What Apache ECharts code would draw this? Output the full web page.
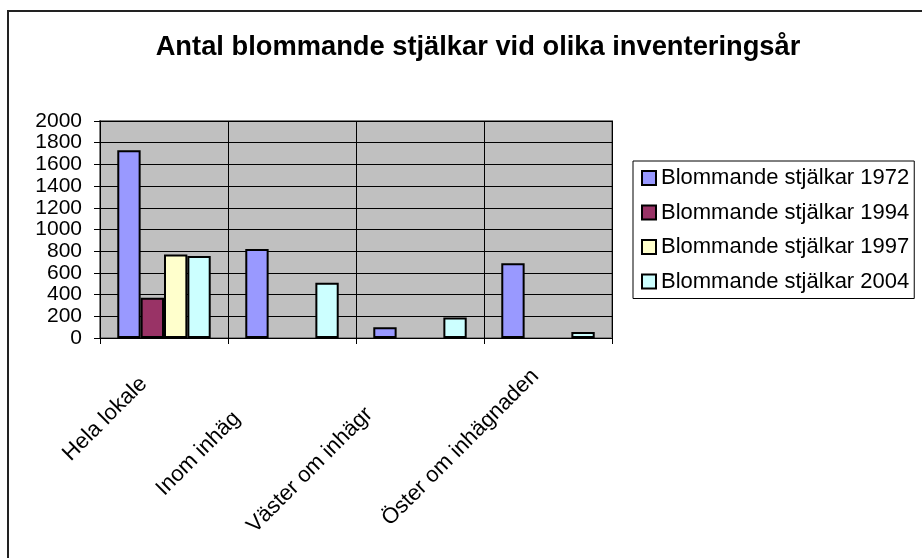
<!DOCTYPE html>
<html>
<head>
<meta charset="utf-8">
<script src="https://cdn.jsdelivr.net/npm/echarts@6/dist/echarts.min.js"></script>
<style>
html,body{margin:0;padding:0;background:#fff;}
#chart{width:922px;height:558px;}
</style>
</head>
<body>
<div id="chart"></div>
<script>
// Data
const titleText = 'Antal blommande stjälkar vid olika inventeringsår';
const categories = ['Hela lokale', 'Inom inhäg', 'Väster om inhägr', 'Öster om inhägnaden'];
const seriesNames = ['Blommande stjälkar 1972', 'Blommande stjälkar 1994', 'Blommande stjälkar 1997', 'Blommande stjälkar 2004'];
const values1972 = [1730, 820, 100, 690];
const values1994 = [370, null, null, null];
const values1997 = [770, null, null, null];
const values2004 = [755, 510, 190, 55];
const yTicks = [0, 200, 400, 600, 800, 1000, 1200, 1400, 1600, 1800, 2000];

const colors = ['#9999FF', '#993366', '#FFFFCC', '#CCFFFF'];
const allValues = [values1972, values1994, values1997, values2004];
const FONT = 'Liberation Sans, Arial, sans-serif';
const labelPads = [29, 78, 72, 18];

const rich = {};
labelPads.forEach((p, i) => {
  rich['c' + i] = {fontSize: 22, fontFamily: FONT, color: '#000', padding: [0, p, 0, 0]};
});

const chart = echarts.init(document.getElementById('chart'));
chart.setOption({
  animation: false,
  backgroundColor: '#fff',
  title: {
    text: titleText,
    left: 473,
    top: 29,
    textAlign: 'center',
    textStyle: {fontSize: 27.3, fontWeight: 'bold', fontFamily: FONT, color: '#000'}
  },
  graphic: [{
    type: 'rect',
    shape: {x: 8, y: 11, width: 1000, height: 1000},
    style: {fill: null, stroke: '#222', lineWidth: 2},
    silent: true,
    z: -1
  }],
  legend: {
    orient: 'vertical',
    left: 633,
    top: 161,
    padding: [5, 5, 5, 8],
    itemGap: 10.5,
    itemWidth: 14,
    itemHeight: 14,
    icon: 'rect',
    backgroundColor: '#fff',
    borderColor: '#000',
    borderWidth: 1,
    borderRadius: 0,
    textStyle: {fontSize: 22, fontFamily: FONT, color: '#000', lineHeight: 24},
    data: seriesNames
  },
  grid: {
    left: 100, right: 310, top: 121, bottom: 220,
    show: true,
    backgroundColor: '#C0C0C0',
    borderColor: '#808080',
    borderWidth: 2,
    containLabel: false
  },
  xAxis: {
    type: 'category',
    data: categories,
    boundaryGap: true,
    axisLine: {show: true, lineStyle: {color: '#000', width: 1}},
    axisTick: {show: true, length: 6, interval: 0, lineStyle: {color: '#000'}},
    splitLine: {show: true, interval: 0, lineStyle: {color: '#000', width: 1}},
    axisLabel: {
      interval: 0,
      rotate: 45,
      margin: 22,
      fontSize: 22,
      fontFamily: FONT,
      color: '#000',
      formatter: (v, i) => '{c' + i + '|' + v + '}',
      rich: rich
    }
  },
  yAxis: {
    type: 'value',
    min: yTicks[0],
    max: yTicks[yTicks.length - 1],
    interval: yTicks[1] - yTicks[0],
    axisLine: {show: true, lineStyle: {color: '#000', width: 1}},
    axisTick: {show: true, length: 6, lineStyle: {color: '#000'}},
    splitLine: {show: true, lineStyle: {color: '#000', width: 1}},
    axisLabel: {
      margin: 18, fontSize: 21, lineHeight: 16, fontFamily: FONT, color: '#000',
      showMinLabel: true, showMaxLabel: true, hideOverlap: false,
      formatter: (v) => String(v)
    }
  },
  series: seriesNames.map((name, i) => ({
    name: name,
    type: 'bar',
    data: allValues[i],
    barGap: '0%',
    barCategoryGap: '27%',
    itemStyle: {color: colors[i], borderColor: '#000', borderWidth: 2}
  }))
});
</script>
</body>
</html>
